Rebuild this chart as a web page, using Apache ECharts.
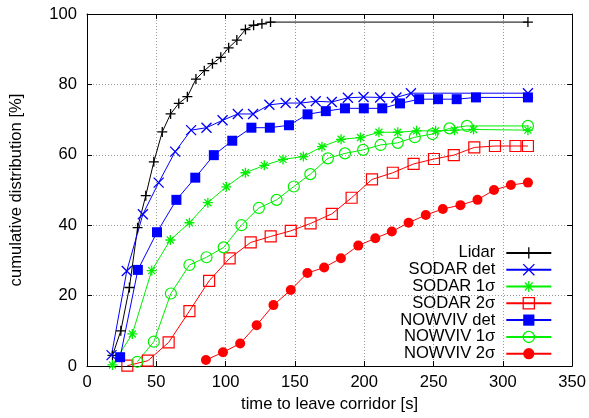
<!DOCTYPE html>
<html>
<head>
<meta charset="utf-8">
<script src="https://cdn.jsdelivr.net/npm/echarts@6/dist/echarts.min.js"></script>
<style>
  html, body { margin: 0; padding: 0; background: #fff; }
  #chart { width: 589px; height: 418px; }
</style>
</head>
<body>
<div id="chart"></div>
<script>
// Cumulative distribution of the time a wake needs to leave the corridor
const seriesNames = ['Lidar', 'SODAR det', 'SODAR 1σ', 'SODAR 2σ', 'NOWVIV det', 'NOWVIV 1σ', 'NOWVIV 2σ'];

const lidarT = [18.4, 24.4, 30.6, 36.5, 42.4, 48.2, 54.3, 60.3, 66.2, 72.4, 78.6, 84.6, 90.5, 96.5, 102.2, 108.1, 114.3, 120.2, 126.2, 132.4, 318.1];
const lidarP = [3, 10, 22.3, 39.3, 48.4, 58, 66.5, 71.6, 74.6, 76.5, 81.5, 83.9, 85.9, 87.7, 90.4, 92.6, 95.6, 96.8, 97.2, 97.7, 97.7];

const sodarDetT = [17.7, 28.7, 40.3, 51.7, 63.6, 75.1, 86.2, 97.8, 108.8, 119.8, 131.6, 143.3, 154.2, 165, 176.6, 188.2, 199.5, 211.5, 223.2, 233.7, 318.1];
const sodarDetP = [3.1, 27, 43.1, 52.1, 60.9, 67, 67.7, 69.8, 71.6, 71.6, 74.2, 74.7, 74.7, 75.2, 75, 76.2, 76.4, 76.3, 76.3, 77.5, 77.5];

const sodar1T = [18.4, 32.7, 46.7, 60.1, 73.9, 87.2, 100.5, 114.3, 127.9, 141.4, 156.1, 169.5, 183.3, 197.3, 210.6, 224.2, 237.8, 251.5, 265.1, 278.9, 318.1];
const sodar1P = [0.3, 9.1, 27.1, 35.8, 40.7, 46.4, 50.9, 54.9, 57, 58.7, 59.5, 62.3, 64.4, 64.9, 66.4, 66.4, 66.8, 66.8, 67, 67.2, 67];

const sodar2T = [29.1, 43.9, 58.9, 73.9, 88.1, 102.9, 118.1, 132.5, 147, 161.3, 176.6, 190.9, 205.6, 220.6, 235.6, 250.3, 264.6, 279.4, 294.3, 309.1, 318.1];
const sodar2P = [0.1, 1.5, 6.7, 15.6, 24.2, 30.6, 35.1, 36.8, 38.4, 40.5, 43.2, 47.8, 53, 54.9, 57.4, 58.8, 59.9, 62.1, 62.5, 62.5, 62.5];

const nowvivDetT = [23.9, 36.7, 50.5, 64.5, 78.1, 91.5, 104.8, 118.6, 131.9, 145.7, 159.1, 172.3, 186.1, 199.7, 213, 225.8, 239.6, 253.2, 266.7, 280.6, 318.1];
const nowvivDetP = [2.5, 27.3, 38, 47.2, 53.5, 59.9, 64, 67.7, 67.7, 68.4, 71.5, 72.4, 73.2, 73.2, 73.2, 74.6, 75.8, 75.8, 75.8, 76.3, 76.3];

const nowviv1T = [36.3, 48.2, 60.5, 73.9, 86.2, 98.6, 111.4, 124, 136.8, 149.2, 161.1, 173.8, 186.1, 199.2, 211.8, 224.2, 236.5, 249.2, 261.5, 274.1, 318.1];
const nowviv1P = [1.2, 6.9, 20.6, 28.7, 30.9, 33.7, 40, 44.9, 47.2, 51, 54.5, 59, 60.4, 61.4, 62.8, 63.4, 65, 65.9, 67.5, 68.2, 68.2];

const nowviv2T = [85.8, 98.1, 110.5, 122.4, 134.5, 147, 159, 171.1, 183.2, 195.7, 208, 219.9, 232, 244.4, 256.7, 269.4, 281.7, 293.6, 305.8, 318.1];
const nowviv2P = [1.7, 3.9, 6.4, 11.6, 17.3, 21.6, 26.4, 28, 30.6, 34.2, 36.3, 38.2, 40.7, 42.9, 44.6, 45.7, 47.2, 50, 51.4, 52.1];

const xTicks = [0, 50, 100, 150, 200, 250, 300, 350];
const yTicks = [0, 20, 40, 60, 80, 100];

const pairs = (xs, ys) => xs.map((x, i) => [x, ys[i]]);

const FONT = '"Liberation Sans", Arial, Helvetica, sans-serif';
const FS = 16.6;

// stroked marker shapes
const PLUS = 'path://M5,0L5,10M0,5L10,5';
const CROSS = 'path://M0,0L10,10M10,0L0,10';
const STAR = 'path://M5,0L5,10M0,5L10,5M1.5,1.5L8.5,8.5M8.5,1.5L1.5,8.5';

function strokeMark(name, data, color, symbol, size) {
  return {
    name, type: 'line', data, symbol, symbolSize: size,
    showAllSymbol: true, clip: false,
    lineStyle: { color, width: 1 },
    itemStyle: { color: color, borderColor: color, borderWidth: 1.3 }
  };
}
function openMark(name, data, color, symbol, size) {
  return {
    name, type: 'line', data, symbol, symbolSize: size,
    showAllSymbol: true, clip: false,
    lineStyle: { color, width: 1 },
    itemStyle: { color: 'rgba(255,255,255,0)', borderColor: color, borderWidth: 1.2 }
  };
}
function fillMark(name, data, color, symbol, size) {
  return {
    name, type: 'line', data, symbol, symbolSize: size,
    showAllSymbol: true, clip: false,
    lineStyle: { color, width: 1 },
    itemStyle: { color: color, borderColor: color, borderWidth: 0 }
  };
}

const BLACK = '#000000', BLUE = '#0000ff', GREEN = '#00f000', RED = '#ff0000';

const series = [
  strokeMark(seriesNames[0], pairs(lidarT, lidarP), BLACK, PLUS, 10),
  strokeMark(seriesNames[1], pairs(sodarDetT, sodarDetP), BLUE, CROSS, 10),
  strokeMark(seriesNames[2], pairs(sodar1T, sodar1P), GREEN, STAR, 10),
  openMark(seriesNames[3], pairs(sodar2T, sodar2P), RED, 'rect', 11),
  fillMark(seriesNames[4], pairs(nowvivDetT, nowvivDetP), BLUE, 'rect', 10),
  openMark(seriesNames[5], pairs(nowviv1T, nowviv1P), GREEN, 'circle', 11),
  fillMark(seriesNames[6], pairs(nowviv2T, nowviv2P), RED, 'circle', 10)
];

const gridLine = { show: true, showMinLine: false, showMaxLine: false,
  lineStyle: { color: '#999', type: [1, 2], width: 1 } };
const tickIn = { show: true, inside: true, length: 5, lineStyle: { color: '#000' } };
const axisLine = { show: true, onZero: false, lineStyle: { color: '#000', width: 1 } };

const chart = echarts.init(document.getElementById('chart'), null, { renderer: 'canvas' });
chart.setOption({
  animation: false,
  backgroundColor: '#fff',
  textStyle: { fontFamily: FONT },
  grid: { left: 82.5, right: 16, top: 14, bottom: 52, containLabel: false },
  xAxis: [{
    type: 'value', min: xTicks[0], max: xTicks[xTicks.length - 1], interval: 50,
    position: 'bottom',
    name: 'time to leave corridor [s]', nameLocation: 'middle', nameGap: 30,
    nameTextStyle: { fontSize: FS, color: '#000', fontFamily: FONT },
    axisLine, axisTick: tickIn, splitLine: gridLine,
    axisLabel: { fontSize: FS, color: '#000', margin: 8, fontFamily: FONT }
  }, {
    type: 'value', min: xTicks[0], max: xTicks[xTicks.length - 1], interval: 50,
    position: 'top', axisLine, axisTick: tickIn,
    splitLine: { show: false }, axisLabel: { show: false }
  }],
  yAxis: [{
    type: 'value', min: yTicks[0], max: yTicks[yTicks.length - 1], interval: 20,
    position: 'left',
    name: 'cumulative distribution [%]', nameLocation: 'middle', nameGap: 62,
    nameTextStyle: { fontSize: FS, color: '#000', fontFamily: FONT },
    axisLine, axisTick: tickIn, splitLine: gridLine,
    axisLabel: { fontSize: FS, color: '#000', margin: 10, fontFamily: FONT }
  }, {
    type: 'value', min: yTicks[0], max: yTicks[yTicks.length - 1], interval: 20,
    position: 'right', axisLine, axisTick: tickIn,
    splitLine: { show: false }, axisLabel: { show: false }
  }],
  legend: {
    orient: 'vertical', align: 'right',
    right: 36.7, top: 244.4, padding: 0,
    itemWidth: 45, itemHeight: 14, itemGap: -0.2,
    textStyle: { fontSize: FS, color: '#000', fontFamily: FONT, padding: [0, 6, 0, 0] },
    data: seriesNames.map((n, i) => ({
      name: n,
      itemStyle: { borderWidth: (i === 4 || i === 6) ? 0 : 1.3 }
    })),
    selectedMode: false
  },
  series
});
</script>
</body>
</html>
